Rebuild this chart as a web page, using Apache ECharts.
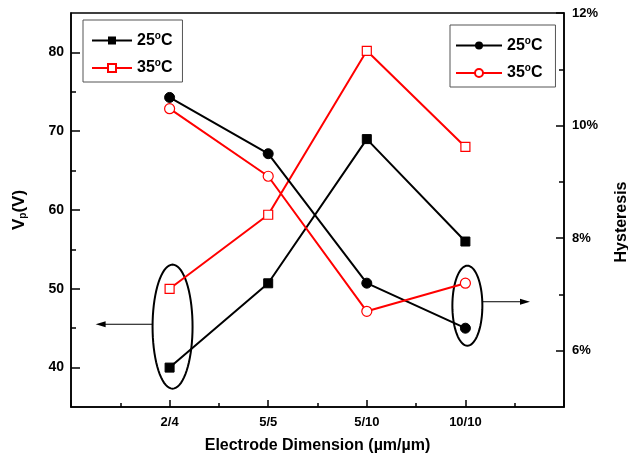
<!DOCTYPE html>
<html>
<head>
<meta charset="utf-8">
<script src="https://cdn.jsdelivr.net/npm/echarts@6/dist/echarts.min.js"></script>
<style>
html,body{margin:0;padding:0;background:#fff;}
#c{width:628px;height:459px;}
</style>
</head>
<body>
<div id="c"></div>
<script>
const categories = ['2/4', '5/5', '5/10', '10/10'];
const vp25 = [40.0, 50.7, 69.0, 56.0];
const vp35 = [50.0, 59.4, 80.2, 68.0];
const hys25 = [10.5, 9.5, 7.2, 6.4];
const hys35 = [10.3, 9.1, 6.7, 7.2];
const vpTicks = [40, 50, 60, 70, 80];
const vpMinorTicks = [45, 55, 65, 75];
const hysTicks = [6, 8, 10, 12];
const hysMinorTicks = [7, 9, 11];

const FONT = '"Liberation Sans", Arial, sans-serif';
const toPts = arr => arr.map((v, i) => [i + 1, v]);

const chart = echarts.init(document.getElementById('c'), null, {renderer: 'canvas'});

const legendText = {
  sq25: '25{s|o}C', sq35: '35{s|o}C', ci25: '25{s|o}C', ci35: '35{s|o}C'
};
const legendRich = {
  s: {fontSize: 10, fontWeight: 'bold', fontFamily: FONT, color: '#000', padding: [0, 0, 9, 0]}
};
const legendBase = {
  orient: 'vertical',
  borderColor: '#555',
  borderWidth: 1,
  padding: [11, 10, 6, 8],
  itemGap: 10,
  itemWidth: 40,
  itemHeight: 10,
  selectedMode: false,
  formatter: n => legendText[n],
  textStyle: {fontSize: 16, fontWeight: 'bold', fontFamily: FONT, color: '#000', rich: legendRich}
};

const axisLineStyle = {show: true, lineStyle: {color: '#000', width: 1.5}};

const option = {
  animation: false,
  backgroundColor: '#fff',
  grid: {left: 71, right: 64, top: 13, bottom: 52, outerBoundsMode: 'none', containLabel: false,
    show: true, borderColor: '#000', borderWidth: 1.5, backgroundColor: 'transparent'},
  legend: [
    Object.assign({}, legendBase, {left: 83, top: 20, data: ['sq25', 'sq35']}),
    Object.assign({}, legendBase, {left: 450, top: 25, itemWidth: 46, padding: [11, 13, 6, 5], data: ['ci25', 'ci35']})
  ],
  xAxis: {
    type: 'value', min: 0, max: 5, interval: 1,
    name: 'Electrode Dimension (\u00b5m/\u00b5m)',
    nameLocation: 'middle', nameGap: 31,
    nameTextStyle: {fontSize: 16, fontWeight: 'bold', fontFamily: FONT, color: '#000'},
    axisLine: axisLineStyle,
    axisTick: {show: true, inside: true, length: 7, lineStyle: {color: '#000', width: 1.5}},
    minorTick: {show: true, splitNumber: 2, length: 4, lineStyle: {color: '#000', width: 1.5}},
    splitLine: {show: false},
    axisLabel: {
      formatter: v => categories[v - 1] || '',
      fontSize: 13, fontWeight: 'bold', fontFamily: FONT, color: '#000', margin: 9
    }
  },
  yAxis: [
    {
      type: 'value', min: 35, max: 85, position: 'left',
      name: 'V{sub|p}(V)', nameLocation: 'middle', nameGap: 43,
      nameTextStyle: {fontSize: 17, fontWeight: 'bold', fontFamily: FONT, color: '#000',
        rich: {sub: {fontSize: 10, fontWeight: 'bold', fontFamily: FONT, color: '#000', padding: [0, 0, -8, 0]}}},
      axisLine: axisLineStyle,
      axisTick: {show: true, inside: true, length: 9, customValues: vpTicks, lineStyle: {color: '#000', width: 1.5}},
      axisLabel: {customValues: vpTicks, fontSize: 14, fontWeight: 'bold', fontFamily: FONT, color: '#000', margin: 7},
      splitLine: {show: false}
    },
    {
      type: 'value', min: 5, max: 12, position: 'right',
      name: 'Hysteresis', nameLocation: 'middle', nameGap: 50,
      nameTextStyle: {fontSize: 16, fontWeight: 'bold', fontFamily: FONT, color: '#000', padding: [0, 24, 0, 0]},
      axisLine: axisLineStyle,
      axisTick: {show: true, inside: true, length: 8, customValues: hysTicks, lineStyle: {color: '#000', width: 1.5}},
      axisLabel: {customValues: hysTicks, formatter: v => v + '%', fontSize: 13, fontWeight: 'bold', fontFamily: FONT, color: '#000', margin: 8},
      splitLine: {show: false}
    },
    {
      type: 'value', min: 35, max: 85, position: 'left',
      axisLine: {show: false},
      axisTick: {show: true, inside: true, length: 5, customValues: vpMinorTicks, lineStyle: {color: '#000', width: 1.5}},
      axisLabel: {show: false},
      splitLine: {show: false}
    },
    {
      type: 'value', min: 5, max: 12, position: 'right',
      axisLine: {show: false},
      axisTick: {show: true, inside: true, length: 5, customValues: hysMinorTicks, lineStyle: {color: '#000', width: 1.5}},
      axisLabel: {show: false},
      splitLine: {show: false}
    }
  ],
  series: [
    {name: 'sq25', type: 'line', yAxisIndex: 0, data: toPts(vp25), symbol: 'rect', symbolSize: 9,
      lineStyle: {color: '#000', width: 2}, itemStyle: {color: '#000', borderColor: '#000'}},
    {name: 'sq35', type: 'line', yAxisIndex: 0, data: toPts(vp35), symbol: 'rect', symbolSize: 9,
      lineStyle: {color: '#ff0000', width: 2}, itemStyle: {color: '#fff', borderColor: '#ff0000', borderWidth: 1.2}},
    {name: 'ci25', type: 'line', yAxisIndex: 1, data: toPts(hys25), symbol: 'circle', symbolSize: 10,
      lineStyle: {color: '#000', width: 2}, itemStyle: {color: '#000', borderColor: '#000'}},
    {name: 'ci35', type: 'line', yAxisIndex: 1, data: toPts(hys35), symbol: 'circle', symbolSize: 10,
      lineStyle: {color: '#ff0000', width: 2}, itemStyle: {color: '#fff', borderColor: '#ff0000', borderWidth: 1.2}}
  ]
};
chart.setOption(option);

// annotation ellipses and arrows, positioned from axis scales
function px(x, y, yi) { return chart.convertToPixel({xAxisIndex: 0, yAxisIndex: yi}, [x, y]); }
function ellipsePts(cx, cy, rx, ry) {
  const pts = [];
  for (let i = 0; i < 72; i++) {
    const a = i / 72 * Math.PI * 2;
    pts.push([cx + rx * Math.cos(a), cy + ry * Math.sin(a)]);
  }
  return pts;
}
const c1 = px(1.03, 45.2, 0);
const c2 = px(4.02, 6.8, 1);
const e1 = {rx: 20, ry: 62};
const e2 = {rx: 15, ry: 40};
const aL = px(0.25, 45.5, 0);
const aR = px(4.655, 6.87, 1);
const lineStyle = {stroke: '#000', lineWidth: 2, fill: null};
const thin = {stroke: '#000', lineWidth: 1};
chart.setOption({
  graphic: [
    {type: 'polygon', shape: {points: ellipsePts(c1[0], c1[1], e1.rx, e1.ry)}, style: lineStyle, silent: true},
    {type: 'polygon', shape: {points: ellipsePts(c2[0], c2[1], e2.rx, e2.ry)}, style: lineStyle, silent: true},
    {type: 'line', shape: {x1: c1[0] - e1.rx, y1: aL[1], x2: aL[0] + 8, y2: aL[1]}, style: thin, silent: true},
    {type: 'polygon', shape: {points: [[aL[0], aL[1]], [aL[0] + 10, aL[1] - 3], [aL[0] + 10, aL[1] + 3]]}, style: {fill: '#000'}, silent: true},
    {type: 'line', shape: {x1: c2[0] + e2.rx, y1: aR[1], x2: aR[0] - 8, y2: aR[1]}, style: thin, silent: true},
    {type: 'polygon', shape: {points: [[aR[0], aR[1]], [aR[0] - 10, aR[1] - 3], [aR[0] - 10, aR[1] + 3]]}, style: {fill: '#000'}, silent: true}
  ]
});
</script>
</body>
</html>
